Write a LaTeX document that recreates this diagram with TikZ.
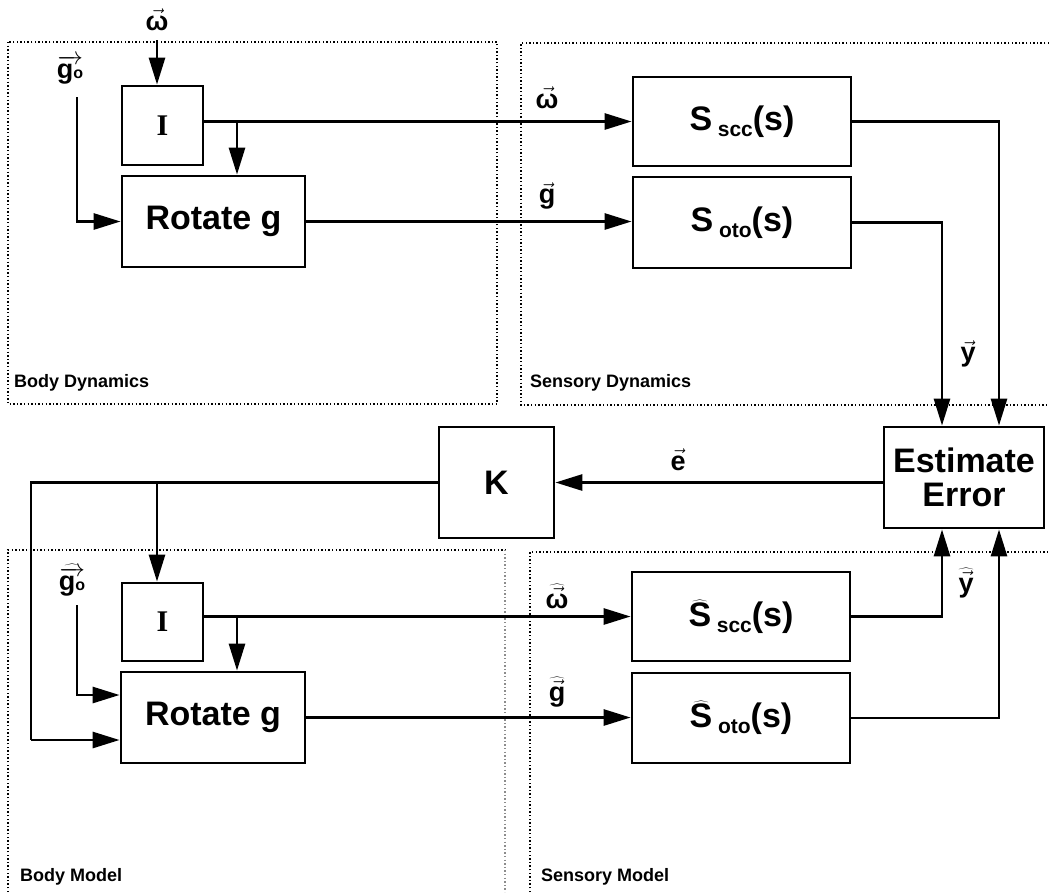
\documentclass[tikz,border=0pt]{standalone}
\usepackage{fontspec}
\setmainfont{Liberation Sans}
\newfontfamily\serifbold{Liberation Serif}
\usetikzlibrary{arrows.meta,calc}
\newcommand{\va}[1]{$\vec{\mbox{#1}}$}
\newcommand{\vhat}[1]{$\widehat{\vec{\mbox{#1}}}$}
\newcommand{\gzero}{$\overrightarrow{\mbox{g\fontsize{16}{16}\selectfont o}}$}
\newcommand{\gzerohat}{$\widehat{\overrightarrow{\mbox{g\fontsize{16}{16}\selectfont o}}}$}
\newcommand{\subsc}[1]{\,\raisebox{-6pt}{\fontsize{21}{21}\selectfont #1}}
\begin{document}
\begin{tikzpicture}[x=1pt,y=-1pt,
  blk/.style={draw,line width=2.8pt,inner sep=0pt,font=\bfseries\fontsize{34}{38}\selectfont},
  iblk/.style={draw,line width=2.8pt,inner sep=0pt,minimum width=81pt,minimum height=79pt,font=\serifbold\bfseries\fontsize{30}{32}\selectfont},
  arr/.style={line width=2.8pt,-{Triangle[length=27pt,width=16pt]}},
  ln/.style={line width=2.8pt},
  frame/.style={line width=1.4pt,dash pattern=on 1.4pt off 2.2pt},
  area/.style={font=\bfseries\fontsize{18}{18}\selectfont,anchor=west,inner sep=0pt},
  vl/.style={font=\bfseries\fontsize{27}{29}\selectfont,inner sep=0pt}]
\useasboundingbox (0,0) rectangle (1049,892);

% dotted frames
\draw[frame] (8,42) rectangle (497,404);
\draw[frame] (1049,43) -- (521,43) -- (521,405) -- (1049,405);
\draw[frame] (8,892) -- (8,550) -- (505,550);
\draw[frame,black!45] (505,550) -- (505,892);
\draw[frame] (530,892) -- (530,552) -- (1049,552);

\node[area] (bdl) at (14,383) {Body Dynamics};
\node[area] (sdl) at (530,383) {Sensory Dynamics};
\node[area] (bml) at (20,877) {Body Model};
\node[area] (sml) at (541,877) {Sensory Model};

% blocks top
\node[iblk] (I1) at (162.5,125.5) {I};
\node[blk,minimum width=183pt,minimum height=91pt] (R1) at (213.5,221.5) {Rotate g};
\node[blk,minimum width=218pt,minimum height=89pt] (S1) at (742,121.5) {S\subsc{scc}(s)};
\node[blk,minimum width=218pt,minimum height=91pt] (O1) at (742,222.5) {S\subsc{oto}(s)};
\node[blk,minimum width=160pt,minimum height=101pt,align=center,font=\bfseries\fontsize{34}{34}\selectfont] (EE) at (964,477.5) {Estimate\\Error};
\node[blk,minimum width=115pt,minimum height=111pt] (K) at (496.5,482.5) {K};
% blocks bottom
\node[iblk,minimum height=78pt] (I2) at (162.5,622) {I};
\node[blk,minimum width=184pt,minimum height=91pt] (R2) at (213,717.5) {Rotate g};
\node[blk,minimum width=218pt,minimum height=89pt] (S2) at (741,616.5) {$\widehat{\mbox{S}}$\subsc{scc}(s)};
\node[blk,minimum width=218pt,minimum height=90pt] (O2) at (741,718) {$\widehat{\mbox{S}}$\subsc{oto}(s)};

% labels
\node[vl] (lw0) at (157,20) {\va{ω}};
\node[vl] (lg0) at (70,70) {\gzero};
\node[vl] (lw1) at (547,98) {\va{ω}};
\node[vl] (lg1) at (547,196) {\va{g}};
\node[vl] (ly) at (968,354) {\va{y}};
\node[vl] (le) at (678,460) {\va{e}};
\node[vl] (lg2) at (72,580) {\gzerohat};
\node[vl] (lw2) at (557,596) {\vhat{ω}};
\node[vl] (lg3) at (557,692) {\vhat{g}};
\node[vl] (ly2) at (966,583) {\vhat{y}};

% top connectors
\coordinate (wtop) at (157,40);
\draw[arr] (wtop) -- (wtop |- I1.north);
\coordinate (go1) at (77,97);
\draw[arr] (go1) |- (R1.west);
\draw[arr] (I1.east |- S1.west) -- (S1.west);
\coordinate (b1) at (237,121.5);
\draw[arr] (b1) -- (b1 |- R1.north);
\draw[arr] (R1.east) -- (R1.east -| O1.west);
\draw[arr] (S1.east) -| ([xshift=35pt]EE.north);
\draw[arr] (O1.east) -| ([xshift=-22pt]EE.north);

% middle
\draw[arr] (EE.west |- K.east) -- (K.east);
\coordinate (kl) at (31,740);
\draw[ln] (K.west) -| (kl);
\draw[arr] (kl) -- (kl -| R2.west);
\coordinate (b3) at (157,482.5);
\draw[arr] (b3) -- (b3 |- I2.north);

% bottom connectors
\coordinate (go2) at (77,605);
\draw[arr] (go2) |- ([yshift=22.5pt]R2.west);
\draw[arr] (I2.east |- S2.west) -- (S2.west);
\coordinate (b4) at (237,616.5);
\draw[arr] (b4) -- (b4 |- R2.north);
\draw[arr] (R2.east) -- (R2.east -| O2.west);
\draw[arr] (S2.east) -| ([xshift=-22pt]EE.south);
\draw[arr] (O2.east) -| ([xshift=35pt]EE.south);
\end{tikzpicture}
\end{document}
